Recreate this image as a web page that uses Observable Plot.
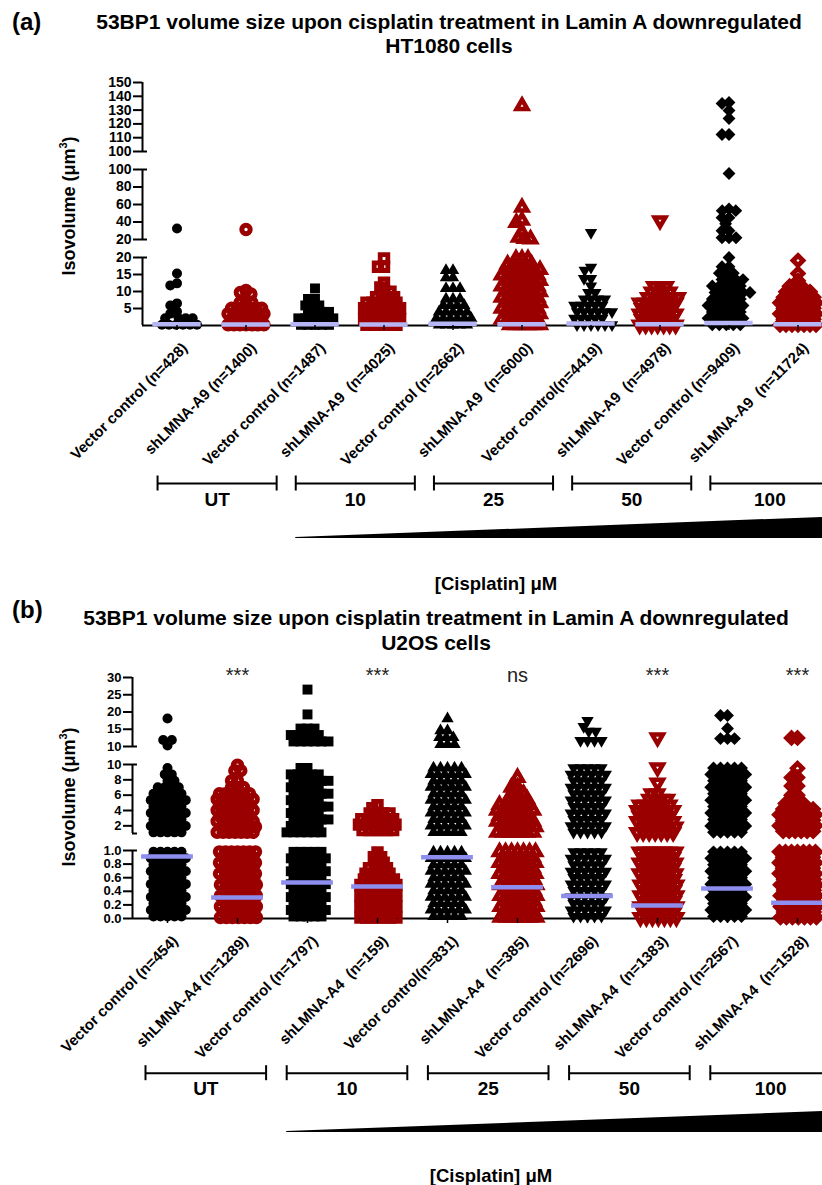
<!DOCTYPE html>
<html>
<head>
<meta charset="utf-8">
<script src="https://cdn.jsdelivr.net/npm/d3@7"></script>
<script src="https://cdn.jsdelivr.net/npm/@observablehq/plot@0.6"></script>
<style>
html, body { margin: 0; padding: 0; background: #fff; overflow: hidden; }
body { width: 822px; height: 1185px; position: relative; font-family: "Liberation Sans", Arial, sans-serif; color: #000; }
.abs { position: absolute; }
.box { width: 822px; }
.title { font-weight: bold; font-size: 21px; text-align: center; white-space: nowrap; width: 800px; }
.plab { font-weight: bold; font-size: 24px; line-height: 24px; }
.ylab { font-weight: bold; font-size: 18px; line-height: 20px; white-space: nowrap; transform: translate(-50%, -50%) rotate(-90deg); }
.ylab sup { font-size: 11px; line-height: 0; vertical-align: 8px; }
.cis { font-weight: bold; font-size: 18.5px; line-height: 20px; white-space: nowrap; transform: translate(-50%, -50%); }
svg { font-family: "Liberation Sans", Arial, sans-serif !important; background: transparent !important; overflow: visible; }
</style>
</head>
<body>
<div class="abs plab" style="left:12px;top:10px;">(a)</div>
<div class="abs title" style="left:49px;top:10px;line-height:24px;">53BP1 volume size upon cisplatin treatment in Lamin A downregulated<br>HT1080 cells</div>
<div class="abs ylab" style="left:69px;top:206px;">Isovolume (μm<sup>3</sup>)</div>
<div id="mainA" class="abs box" style="left:0;top:60px;"></div>
<div id="annA" class="abs box" style="left:0;top:470px;"></div>
<div class="abs cis" style="left:496px;top:584px;">[Cisplatin] μM</div>

<div class="abs plab" style="left:12px;top:598px;">(b)</div>
<div class="abs title" style="left:36px;top:605px;line-height:25px;">53BP1 volume size upon cisplatin treatment in Lamin A downregulated<br>U2OS cells</div>
<div class="abs ylab" style="left:69px;top:797px;">Isovolume (μm<sup>3</sup>)</div>
<div id="mainB" class="abs box" style="left:0;top:655px;"></div>
<div id="annB" class="abs box" style="left:0;top:1060px;"></div>
<div class="abs cis" style="left:491px;top:1176px;">[Cisplatin] μM</div>

<script>
// ---------------- DATA ----------------
const concentrations = ["UT", "10", "25", "50", "100"];

// Panel (a) HT1080 — [isovolume value, number of cells drawn at that value]
const groupsA = [
  "Vector control (n=428)", "shLMNA-A9 (n=1400)",
  "Vector control (n=1487)", "shLMNA-A9 \u00a0(n=4025)",
  "Vector control (n=2662)", "shLMNA-A9 \u00a0(n=6000)",
  "Vector control(n=4419)", "shLMNA-A9 \u00a0(n=4978)",
  "Vector control (n=9409)", "shLMNA-A9 \u00a0(n=11724)"
];
const a1 = [[32.6,1],[15.3,1],[12.4,1],[11.8,1],[6.5,1],[5.9,1],[4.1,1],[3.5,1],[2.1,4],[0.2,6]];
const a2 = [[31.4,1],[10.3,1],[9.7,1],[9.3,1],[6.68,3],[5.06,6],[3.44,7],[1.82,6],[0.2,7]];
const a3 = [[10.9,1],[7.8,2],[5.9,3],[4.0,4],[2.1,6],[0.2,5]];
const a4 = [[19.7,1],[17.3,2],[12.6,1],[11.2,1],[9.92,2],[8.3,4],[6.68,6],[5.06,7],[3.44,6],[1.82,7],[0.2,6]];
const a5 = [[16.2,2],[14.1,2],[10.9,3],[7.8,3],[5.9,4],[4.0,5],[2.1,6],[0.2,5]];
const a6 = [[133,1],[56.6,1],[41.7,1],[39.4,1],[28,1],[22.3,1],[21,1],[20.5,1],
  [19.64,3],[18.02,5],[16.4,6],[14.78,7],[13.16,6],[11.54,7],[9.92,6],[8.3,7],[6.68,6],[5.06,7],[3.44,6],[1.82,7],[0.2,6]];
const a7 = [[28,1],[17.1,1],[16.2,1],[13.8,2],[11.6,1],[9.7,2],[7.8,4],[5.9,5],[4.0,6],[2.1,5],[0.2,6]];
const a8 = [[41.7,1],[11.54,3],[9.92,4],[8.3,6],[6.68,7],[5.06,6],[3.44,7],[1.82,6],[0.2,7]];
const a9 = [[135.5,1],[134.8,1],[129.7,1],[123.9,1],[112.3,2],[95.4,1],[55,1],[53,2],[45,2],[38,1],[30,2],[22,3],
  [20,1],[17.3,2],[15.4,3],[13.5,4],[11.6,5],[9.7,6],[7.8,5],[5.9,6],[4.0,5],[2.1,6],[0.2,5]];
const a10 = [[19.1,1],[15.3,1],[13.16,1],[11.54,3],[9.92,5],[8.3,6],[6.68,7],[5.06,6],[3.44,7],[1.82,6],[0.2,7]];
const mediansA = [0.4, 0.3, 0.4, 0.3, 0.5, 0.4, 0.6, 0.4, 0.7, 0.4];
const ticksA = [5, 10, 15, 20, 20.001, 40, 60, 80, 100, 100.001, 110, 120, 130, 140, 150];

// Panel (b) U2OS
const groupsB = [
  "Vector control (n=454)", "shLMNA-A4 (n=1289)",
  "Vector control (n=1797)", "shLMNA-A4 \u00a0(n=159)",
  "Vector control(n=831)", "shLMNA-A4 \u00a0(n=385)",
  "Vector control (n=2696)", "shLMNA-A4 \u00a0(n=1383)",
  "Vector control (n=2567)", "shLMNA-A4 \u00a0(n=1528)"
];
const b1 = [[18.1,1],[10.3,1],[11.9,2],
  [9.55,1],[8.71,2],[7.87,2],[7.03,4],[6.19,5],[5.35,6],[4.51,5],[3.67,6],[2.83,5],[1.99,6],[1.15,5],
  [0.98,5],[0.885,6],[0.79,5],[0.695,6],[0.6,5],[0.505,6],[0.41,5],[0.315,6],[0.22,5],[0.125,6],[0.03,5]];
const b2 = [[9.9,1],[9.2,2],[7.87,2],[7.0,3],[6.19,6],[5.47,7],[4.75,6],[4.03,7],[3.31,6],[2.59,7],[1.87,6],[1.15,7],
  [0.98,7],[0.9,6],[0.82,7],[0.74,6],[0.66,7],[0.575,6],[0.495,7],[0.415,6],[0.335,7],[0.255,6],[0.175,7],[0.095,6],[0.015,7]];
const b3 = [[26.5,1],[19.3,1],[15.2,3],[13.33,5],[11.46,6],
  [9.55,2],[8.71,5],[7.87,6],[7.03,5],[6.19,6],[5.35,5],[4.51,6],[3.67,5],[2.83,6],[1.99,5],[1.15,6],
  [0.98,5],[0.885,6],[0.79,5],[0.695,6],[0.6,5],[0.505,6],[0.41,5],[0.315,6],[0.22,5],[0.125,6],[0.03,5]];
const b4 = [[4.7,1],[4.3,1],[3.6,4],[2.88,6],[2.16,7],[1.44,6],
  [0.97,1],[0.9,2],[0.82,2],[0.74,4],[0.66,5],[0.575,6],[0.495,7],[0.415,6],[0.335,7],[0.255,6],[0.175,7],[0.095,6],[0.015,7]];
const b5 = [[18.1,1],[14.6,2],[12.6,3],[10.6,3],
  [9.55,5],[8.71,6],[7.87,5],[7.03,6],[6.19,5],[5.35,6],[4.51,5],[3.67,6],[2.83,5],[1.99,6],[1.15,5],
  [0.98,5],[0.885,6],[0.79,5],[0.695,6],[0.6,5],[0.505,6],[0.41,5],[0.315,6],[0.22,5],[0.125,6],[0.03,5]];
const b6 = [[8.3,1],[7.03,2],[6.19,3],[5.47,4],[4.75,6],[4.03,7],[3.31,6],[2.59,7],[1.87,6],[1.15,7],
  [0.98,7],[0.9,6],[0.82,7],[0.74,6],[0.66,7],[0.575,6],[0.495,7],[0.415,6],[0.335,7],[0.255,6],[0.175,7],[0.095,6],[0.015,7]];
const b7 = [[17.5,1],[15.8,1],[14.4,2],[11.7,4],
  [9.55,5],[8.71,6],[7.87,5],[7.03,6],[6.19,5],[5.35,6],[4.51,5],[3.67,6],[2.83,5],[1.99,6],[1.15,5],
  [0.98,5],[0.885,6],[0.79,5],[0.695,6],[0.6,5],[0.505,6],[0.41,5],[0.315,6],[0.22,5],[0.125,6],[0.03,5]];
const b8 = [[12.6,1],[9.6,1],[7.6,1],[6.19,2],[5.47,4],[4.75,6],[4.03,7],[3.31,6],[2.59,7],[1.87,6],[1.15,7],
  [0.98,7],[0.9,6],[0.82,7],[0.74,6],[0.66,7],[0.575,6],[0.495,7],[0.415,6],[0.335,7],[0.255,6],[0.175,7],[0.095,6],[0.015,7]];
const b9 = [[19.0,2],[15.2,1],[12.3,3],
  [9.55,5],[8.71,6],[7.87,5],[7.03,6],[6.19,5],[5.35,6],[4.51,5],[3.67,6],[2.83,5],[1.99,6],[1.15,5],
  [0.98,5],[0.885,6],[0.79,5],[0.695,6],[0.6,5],[0.505,6],[0.41,5],[0.315,6],[0.22,5],[0.125,6],[0.03,5]];
const b10 = [[12.5,2],[9.5,1],[8.3,2],[7.2,2],[6.0,2],[4.9,4],[4.18,6],[3.46,7],[2.74,6],[2.02,7],[1.3,6],
  [0.98,7],[0.9,6],[0.82,7],[0.74,6],[0.66,7],[0.575,6],[0.495,7],[0.415,6],[0.335,7],[0.255,6],[0.175,7],[0.095,6],[0.015,7]];
const mediansB = [0.91, 0.31, 0.53, 0.47, 0.90, 0.46, 0.33, 0.19, 0.44, 0.23];
const statsB = ["***", "***", "ns", "***", "***"];
const ticksB = [0, 0.2, 0.4, 0.6, 0.8, 1.0, 2, 4, 6, 8, 10, 10.0001, 15, 20, 25, 30];

// ---------------- STYLE ----------------
const RED = "#9a0000";
const triangleDown = {
  draw(context, size) {
    const y = -Math.sqrt(size / (Math.sqrt(3) * 3));
    context.moveTo(0, -y * 2);
    context.lineTo(-Math.sqrt(3) * y, y);
    context.lineTo(Math.sqrt(3) * y, y);
    context.closePath();
  }
};
// one shape per concentration: black filled (vector control, dodge spacing 7px) / red hollow (shLMNA, spacing 6px)
const SHAPES = [
  {symbol: "circle",     rB: 5.0, padB: -3.0, rR: 4.2, padR: -2.4, swR: 5},
  {symbol: "square",     rB: 5.6, padB: -4.2, rR: 4.3, padR: -2.6, swR: 4.8},
  {symbol: "triangle",   rB: 4.6, padB: -2.2, rR: 4.0, padR: -2.0, swR: 4.5},
  {symbol: triangleDown, rB: 4.6, padB: -2.2, rR: 4.0, padR: -2.0, swR: 4.5},
  {symbol: "diamond2",   rB: 5.8, padB: -4.6, rR: 4.5, padR: -3.0, swR: 4.8}
];
const expand = (pairs) => pairs.flatMap(([v, n]) => Array(n).fill(v));

function buildMain(p) {
  const bw = (p.fxRange[1] - p.fxRange[0]) / p.groups.length;
  const first = p.groups[0];
  const marks = [Plot.ruleY([0], {stroke: "black", strokeWidth: 2})];
  p.groups.forEach((g, i) => {
    const s = SHAPES[Math.floor(i / 2)];
    const red = i % 2 === 1;
    marks.push(Plot.dot(expand(p.values[i]), Plot.dodgeX(
      {anchor: "middle", padding: red ? s.padR : s.padB},
      {fx: () => g, y: (d) => d, r: red ? s.rR : s.rB, symbol: s.symbol,
       fill: red ? "none" : "black", stroke: red ? RED : "none", strokeWidth: red ? s.swR : 0}
    )));
  });
  marks.push(Plot.ruleY(p.groups.map((g, i) => ({g, m: p.medians[i]})),
    {fx: "g", y: "m", x1: p.medianSpan[0], x2: p.medianSpan[1], stroke: p.medianColor, strokeWidth: 4.5}));
  marks.push(Plot.ruleX(p.segments, {fx: () => first, x: 0, y1: (d) => d[0], y2: (d) => d[1], strokeWidth: 2}));
  marks.push(Plot.ruleY(p.caps, {fx: () => first, y: (d) => d, x1: 0, x2: 5 / bw, strokeWidth: 2}));
  marks.push(Plot.axisY({anchor: "left", ticks: p.ticks, tickFormat: p.fmt, tickSize: 9, tickPadding: 2,
    fontSize: p.tickFont, fontWeight: "bold", strokeWidth: 2, label: null}));
  // x ticks
  marks.push(Plot.axisFx({anchor: "bottom", tickSize: 5, tickFormat: () => "", strokeWidth: 1.5, label: null}));
  // rotated category labels
  marks.push(Plot.axisFx({anchor: "bottom", tickSize: 0, tickPadding: 20, tickRotate: -45, dx: 8,
    fontSize: 15, fontWeight: "bold", label: null}));
  if (p.stats) {
    const rows = p.stats.map((t, k) => ({g: p.groups[2 * k + 1], t}));
    marks.push(Plot.text(rows, {fx: "g", x: 0.5, text: "t", frameAnchor: "top", dy: -10, fontSize: 20, fill: "#222"}));
  }
  return Plot.plot({
    width: 822, height: p.height,
    marginTop: p.range[p.range.length - 1], marginBottom: p.height - p.range[0],
    marginLeft: p.fxRange[0], marginRight: 822 - p.fxRange[1],
    fx: {domain: p.groups, range: p.fxRange, padding: 0, label: null},
    x: {type: "linear", domain: [0, 1], axis: null},
    y: {type: "linear", domain: p.domain, range: p.range},
    marks
  });
}

function buildAnnot(p) {
  const step = (p.fxRange[1] - p.fxRange[0]) / 10;
  const padL = 19 / step, padR = 31 / step;
  const br = concentrations.map((c, k) => ({c, x1: 2 * k - padL, x2: 2 * k + 1 + padR}));
  const wedge = [
    {x: 2 - padL, y1: p.wedgeBottom, y2: p.wedgeBottom - 1},
    {x: 9.5, y1: p.wedgeBottom, y2: p.wedgeBottom - p.wedgeEnd}
  ];
  return Plot.plot({
    width: 822, height: p.height, margin: 0,
    x: {type: "linear", domain: [-0.5, 9.5], range: p.fxRange, axis: null},
    y: {type: "identity", axis: null},
    marks: [
      Plot.ruleY(br, {x1: "x1", x2: "x2", y: p.bracketY, strokeWidth: 2}),
      Plot.ruleX(br, {x: "x1", y1: p.bracketY - 7.5, y2: p.bracketY + 7.5, strokeWidth: 2}),
      Plot.ruleX(br, {x: "x2", y1: p.bracketY - 7.5, y2: p.bracketY + 7.5, strokeWidth: 2}),
      Plot.text(br, {x: (d) => (d.x1 + d.x2) / 2, y: p.labelY, text: "c", fontSize: 19, fontWeight: "bold"}),
      Plot.areaY(wedge, {x: "x", y1: "y1", y2: "y2", fill: "black"})
    ]
  });
}

const fmt = (d) => d <= 1 ? d.toFixed(1) : String(Math.round(d));
const fmtA = (d) => String(Math.round(d));

document.getElementById("mainA").append(buildMain({
  groups: groupsA, values: [a1, a2, a3, a4, a5, a6, a7, a8, a9, a10], medians: mediansA,
  fxRange: [141.5, 832.5], height: 410,
  domain: [0, 20, 20.001, 100, 100.001, 150], range: [265, 197, 179, 109, 91, 22],
  ticks: ticksA, fmt: fmtA, tickFont: 14,
  segments: [[0, 20], [20.001, 100], [100.001, 150]], caps: [20, 20.001, 100, 100.001],
  medianColor: "#b6b6f6", medianSpan: [0.15, 0.85]
}));
document.getElementById("annA").append(buildAnnot({
  fxRange: [141.5, 832.5], height: 130, bracketY: 13, labelY: 29, wedgeBottom: 68, wedgeEnd: 21.5
}));
document.getElementById("mainB").append(buildMain({
  groups: groupsB, values: [b1, b2, b3, b4, b5, b6, b7, b8, b9, b10], medians: mediansB, stats: statsB,
  fxRange: [128.7, 834.7], height: 405,
  domain: [0, 1, 1.0001, 10, 10.0001, 30], range: [263, 195, 178, 109, 91, 22],
  ticks: ticksB, fmt: fmt, tickFont: 13,
  segments: [[0, 1], [1.0001, 10], [10.0001, 30]], caps: [1, 1.0001, 10, 10.0001],
  medianColor: "#8e8ef0", medianSpan: [0.13, 0.87]
}));
document.getElementById("annB").append(buildAnnot({
  fxRange: [128.7, 834.7], height: 125, bracketY: 12.7, labelY: 28.5, wedgeBottom: 72, wedgeEnd: 21.5
}));
</script>
</body>
</html>
